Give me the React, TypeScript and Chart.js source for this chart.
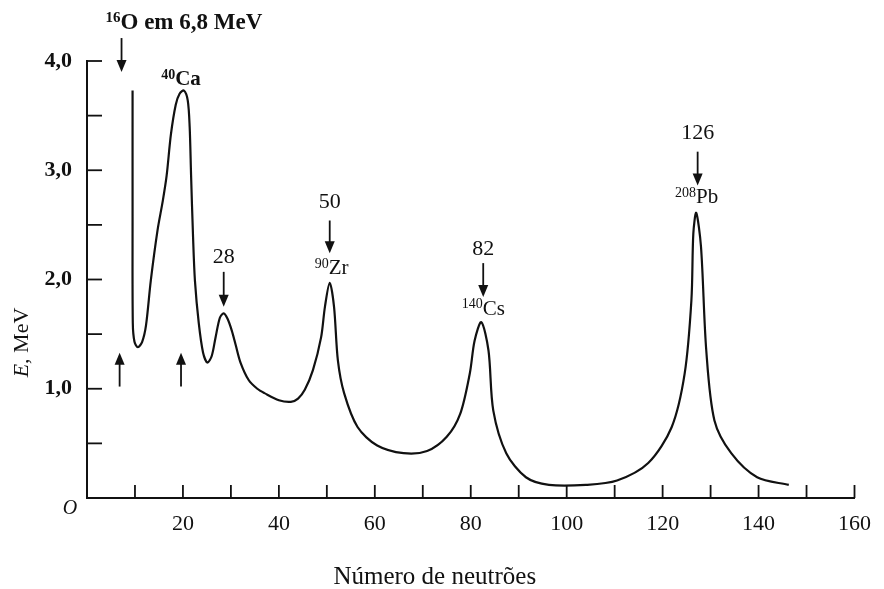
import React, { useEffect, useRef } from 'react';
import { Chart, registerables } from 'chart.js';

Chart.register(...registerables);

// Curve: 1st excited-state energy vs neutron number
const neutronN = [
  9.5, 9.5, 9.55, 9.9, 10.6, 11.5, 12.3, 13.3, 14.7, 15.8, 16.6, 17.5, 18.5, 19.3, 20.2,
  21.0, 21.4, 21.7, 22.1, 22.5, 23.3, 24.2, 25.1, 26.0, 26.8, 27.7, 28.5, 29.3, 30.2,
  31.0, 32.0, 33.7, 35.5, 37, 40, 42.5, 44, 45.4, 47.1, 48.8, 49.6, 50.6, 51.5, 52.3, 53.6, 56.4,
  60.5, 66, 70.9, 75, 77.8, 79.8, 80.8, 82.2, 83.7, 84.7, 87.4, 91.5, 96.3, 104, 110.5,
  117, 121.9, 124.6, 126, 126.4, 127, 128.0, 129.1, 130.8, 134.3, 139.7, 146.3,
];
const energyMeV = [
  3.73, 2.6, 1.6, 1.43, 1.38, 1.43, 1.58, 1.99, 2.45, 2.72, 2.95, 3.33, 3.6, 3.7, 3.73,
  3.64, 3.4, 2.95, 2.4, 1.99, 1.6, 1.33, 1.24, 1.3, 1.47, 1.65, 1.69, 1.64, 1.53,
  1.4, 1.24, 1.08, 1.0, 0.96, 0.895, 0.88, 0.91, 0.99, 1.17, 1.47, 1.75, 1.97, 1.75, 1.26, 0.96, 0.65,
  0.48, 0.41, 0.43, 0.56, 0.77, 1.14, 1.44, 1.61, 1.35, 0.8, 0.41, 0.19, 0.12, 0.12, 0.16,
  0.32, 0.65, 1.14, 1.81, 2.42, 2.61, 2.3, 1.35, 0.71, 0.41, 0.19, 0.12,
];

// Axis ranges and tick labels
const xMin = 0, xMax = 160, xStep = 10;
const xLabelled = [20, 40, 60, 80, 100, 120, 140, 160];
const yMin = 0, yMax = 4, yStep = 0.5;
const yLabelled = [1, 2, 3, 4];
const xTitle = 'Número de neutrões';

// Magic numbers: label, position (N), label height (E), arrow from/to (E)
const magicText = ['28', '50', '82', '126'];
const magicN = [28.5, 50.6, 82.6, 127.3];
const magicLabelE = [2.2, 2.71, 2.28, 3.34];
const magicArrowFromE = [2.07, 2.54, 2.15, 3.17];
const magicArrowToE = [1.75, 2.24, 1.84, 2.86];

// Nuclide labels: mass number (superscript), symbol, position
const nuclideMass = ['40', '90', '140', '208'];
const nuclideSymbol = ['Ca', 'Zr', 'Cs', 'Pb'];
const nuclideN = [19.6, 51.0, 82.6, 127.1];
const nuclideE = [3.84, 2.11, 1.74, 2.76];

// Top label for 16O
const oxygenMass = '16';
const oxygenText = 'O em 6,8 MeV';
const oxygenLabelN = 20.2, oxygenLabelE = 4.36;
const oxygenArrowN = 7.2, oxygenArrowFromE = 4.21, oxygenArrowToE = 3.9;

// Upward arrows
const upArrowN = [6.8, 19.6];
const upArrowFromE = [1.02];
const upArrowToE = [1.33];

const INK = '#111';
const SERIF = '"Liberation Serif", "Times New Roman", serif';

function drawArrow(ctx: CanvasRenderingContext2D, x: number, y1: number, y2: number) {
  const dir = y2 > y1 ? 1 : -1;
  const head = 12;
  ctx.beginPath();
  ctx.moveTo(x, y1);
  ctx.lineTo(x, y2 - dir * head * 0.6);
  ctx.lineWidth = 1.8;
  ctx.strokeStyle = INK;
  ctx.stroke();
  ctx.beginPath();
  ctx.moveTo(x, y2);
  ctx.lineTo(x - 5, y2 - dir * head);
  ctx.lineTo(x + 5, y2 - dir * head);
  ctx.closePath();
  ctx.fillStyle = INK;
  ctx.fill();
}

function drawSupText(
  ctx: CanvasRenderingContext2D, sup: string, main: string, cx: number, cy: number,
  size: number, bold: boolean,
) {
  const w = bold ? 'bold ' : '';
  const supSize = Math.round(size * 0.66);
  ctx.font = `${w}${supSize}px ${SERIF}`;
  const ws = ctx.measureText(sup).width;
  ctx.font = `${w}${size}px ${SERIF}`;
  const wm = ctx.measureText(main).width;
  const start = cx - (ws + wm) / 2;
  ctx.fillStyle = INK;
  ctx.textAlign = 'left';
  ctx.textBaseline = 'alphabetic';
  const base = cy + size * 0.33;
  ctx.font = `${w}${supSize}px ${SERIF}`;
  ctx.fillText(sup, start, base - size * 0.32);
  ctx.font = `${w}${size}px ${SERIF}`;
  ctx.fillText(main, start + ws, base);
}

const decorPlugin = {
  id: 'decor',
  afterDraw(chart: any) {
    const { ctx, scales } = chart;
    const x = scales.x;
    const y = scales.y;
    const px = (v: number) => x.getPixelForValue(v);
    const py = (v: number) => y.getPixelForValue(v);
    ctx.save();
    ctx.strokeStyle = INK;
    ctx.lineWidth = 1.8;
    // inward tick marks
    const y0 = py(0);
    for (let v = xMin + xStep; v <= xMax + 1e-9; v += xStep) {
      ctx.beginPath();
      ctx.moveTo(px(v), y0);
      ctx.lineTo(px(v), y0 - 13);
      ctx.stroke();
    }
    const x0 = px(0);
    for (let v = yMin + yStep; v <= yMax + 1e-9; v += yStep) {
      ctx.beginPath();
      ctx.moveTo(x0, py(v));
      ctx.lineTo(x0 + 15, py(v));
      ctx.stroke();
    }
    // origin "O"
    ctx.fillStyle = INK;
    ctx.font = `italic 20px ${SERIF}`;
    ctx.textAlign = 'center';
    ctx.textBaseline = 'middle';
    ctx.fillText('O', x0 - 17, y0 + 11);

    // y axis title "E, MeV"
    ctx.save();
    ctx.translate(22, (py(yMin) + py(yMax)) / 2 + 63);
    ctx.rotate(-Math.PI / 2);
    ctx.textBaseline = 'middle';
    ctx.textAlign = 'left';
    ctx.font = `italic 22px ${SERIF}`;
    const eW = ctx.measureText('E').width;
    ctx.font = `22px ${SERIF}`;
    const restW = ctx.measureText(', MeV').width;
    const sx = -(eW + restW) / 2;
    ctx.font = `italic 22px ${SERIF}`;
    ctx.fillText('E', sx, 0);
    ctx.font = `22px ${SERIF}`;
    ctx.fillText(', MeV', sx + eW, 0);
    ctx.restore();

    // x axis title
    ctx.font = `25px ${SERIF}`;
    ctx.textAlign = 'center';
    ctx.textBaseline = 'middle';
    ctx.fillText(xTitle, px(72.5), 577);

    // magic numbers
    magicText.forEach((t, i) => {
      ctx.font = `22px ${SERIF}`;
      ctx.fillStyle = INK;
      ctx.textAlign = 'center';
      ctx.textBaseline = 'middle';
      ctx.fillText(t, px(magicN[i]), py(magicLabelE[i]));
      drawArrow(ctx, px(magicN[i]), py(magicArrowFromE[i]), py(magicArrowToE[i]));
    });

    // nuclides
    nuclideMass.forEach((m, i) => {
      drawSupText(ctx, m, nuclideSymbol[i], px(nuclideN[i]), py(nuclideE[i]), 21, i === 0);
    });

    // 16O label
    drawSupText(ctx, oxygenMass, oxygenText, px(oxygenLabelN), py(oxygenLabelE), 23, true);
    drawArrow(ctx, px(oxygenArrowN), py(oxygenArrowFromE), py(oxygenArrowToE));

    // up arrows
    upArrowN.forEach((n) => {
      drawArrow(ctx, px(n), py(upArrowFromE[0]), py(upArrowToE[0]));
    });
    ctx.restore();
  },
};

export default function App() {
  const ref = useRef<HTMLCanvasElement | null>(null);
  useEffect(() => {
    if (!ref.current) return;
    const points = neutronN.map((n, i) => ({ x: n, y: energyMeV[i] }));
    const chart = new Chart(ref.current, {
      type: 'scatter',
      data: {
        datasets: [
          {
            data: points,
            showLine: true,
            borderColor: INK,
            borderWidth: 2.2,
            pointRadius: 0,
            tension: 0.3,
            fill: false,
          },
        ],
      },
      options: {
        animation: false,
        responsive: true,
        maintainAspectRatio: false,
        layout: { padding: { top: 61, right: 22, left: 0, bottom: 0 } },
        plugins: { legend: { display: false }, tooltip: { enabled: false } },
        scales: {
          x: {
            type: 'linear',
            min: xMin,
            max: xMax,
            afterFit: (s: any) => { s.height = 91; },
            grid: { display: false, drawTicks: false },
            border: { display: true, color: INK, width: 2 },
            ticks: {
              stepSize: xStep,
              autoSkip: false,
              maxRotation: 0,
              padding: 13,
              color: INK,
              font: { family: SERIF, size: 22 },
              callback: (v: any) => (xLabelled.includes(Number(v)) ? String(v) : ''),
            },
          },
          y: {
            type: 'linear',
            min: yMin,
            max: yMax,
            afterFit: (s: any) => { s.width = 87; },
            grid: { display: false, drawTicks: false },
            border: { display: true, color: INK, width: 2 },
            ticks: {
              stepSize: yStep,
              autoSkip: false,
              padding: 15,
              color: INK,
              font: { family: SERIF, size: 22, weight: 'bold' },
              callback: (v: any) =>
                yLabelled.includes(Number(v)) ? Number(v).toFixed(1).replace('.', ',') : '',
            },
          },
        },
      },
      plugins: [decorPlugin],
    });
    return () => chart.destroy();
  }, []);
  return (
    <div style={{ position: 'fixed', left: 0, top: 0, width: 884, height: 589, background: '#fff' }}>
      <canvas ref={ref} />
    </div>
  );
}
